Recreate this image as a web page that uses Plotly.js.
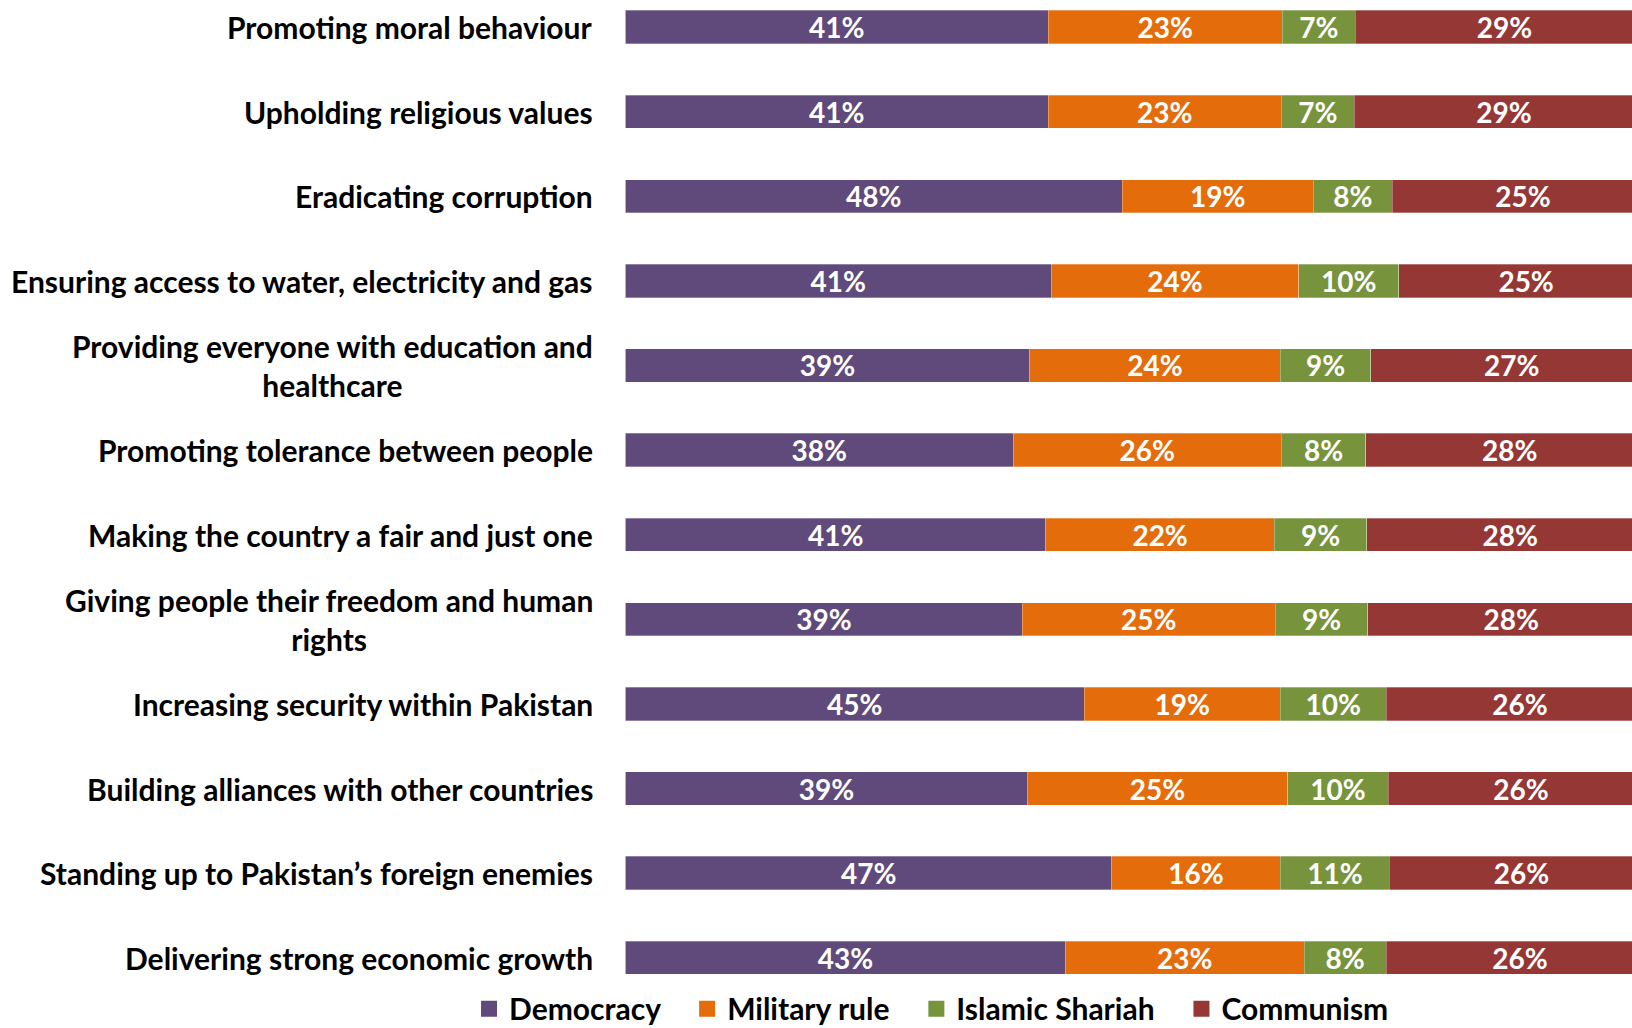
<!DOCTYPE html>
<html><head><meta charset="utf-8">
<script src="https://cdn.plot.ly/plotly-3.0.1.min.js"></script>
<style>html,body{margin:0;padding:0;background:#fff;}#chart{width:1632px;height:1028px;}</style>
</head><body><div id="chart"></div>
<script>
const categories = [
  "Promoting moral behaviour",
  "Upholding religious values",
  "Eradicating corruption",
  "Ensuring access to water, electricity and gas",
  "Providing everyone with education and<br>healthcare",
  "Promoting tolerance between people",
  "Making the country a fair and just one",
  "Giving people their freedom and human<br>rights",
  "Increasing security within Pakistan",
  "Building alliances with other countries",
  "Standing up to Pakistan\u2019s foreign enemies",
  "Delivering strong economic growth"
];
const democracy    = [41.1, 41.1, 48.3, 41.4, 39.3, 37.7, 40.9, 38.6, 44.6, 39.1, 47.3, 42.8];
const militaryRule = [22.8, 22.7, 18.6, 24.1, 24.4, 26.1, 22.2, 24.6, 19.1, 25.3, 16.4, 23.2];
const islamicShariah = [7.1, 7.1, 7.7, 9.7, 8.8, 8.2, 9.0, 9.0, 10.3, 9.8, 10.6, 8.0];
const communism    = [29.0, 29.1, 25.4, 24.8, 27.4, 28.0, 27.9, 27.9, 26.0, 25.8, 25.7, 26.0];

const seriesNames = ["Democracy", "Military rule", "Islamic Shariah", "Communism"];
const seriesValues = [democracy, militaryRule, islamicShariah, communism];
const seriesColors = ["#604A7B", "#E46C0A", "#77933C", "#953735"];

const FONT = "Lato, 'Open Sans', sans-serif";
const idx = categories.map((c, i) => i);

const barTraces = seriesNames.map((name, s) => ({
  type: "bar",
  orientation: "h",
  name: name,
  showlegend: false,
  y: idx,
  x: seriesValues[s],
  marker: {color: seriesColors[s], line: {color: "rgba(255,255,255,0.6)", width: 0.5}},
  texttemplate: "%{x:.0f}%",
  textposition: "inside",
  insidetextanchor: "middle",
  constraintext: "none",
  textangle: 0,
  textfont: {family: FONT, size: 28, color: "#ffffff", weight: "bold"},
  hoverinfo: "skip"
}));

const legendTraces = seriesNames.map((name, s) => ({
  type: "scatter",
  mode: "markers",
  name: name + "\u00a0\u00a0\u00a0",
  x: [null], y: [null],
  marker: {symbol: "square", size: 17, color: seriesColors[s]},
  showlegend: true,
  hoverinfo: "skip"
}));

const annotations = categories.map((c, i) => ({
  xref: "paper", yref: "y",
  x: 0.3645, y: i,
  xanchor: "right", yanchor: "middle",
  align: "center",
  text: "<b>" + c + "</b>",
  showarrow: false,
  font: {family: FONT, size: 30, color: "#000000"}
}));

const layout = {
  width: 1632, height: 1028,
  margin: {l: 0, r: 0, t: 0, b: 0, pad: 0, autoexpand: false},
  barmode: "stack",
  bargap: 0.606,
  paper_bgcolor: "#ffffff",
  plot_bgcolor: "#ffffff",
  showlegend: true,
  legend: {
    orientation: "h",
    x: 0.2874, xanchor: "left",
    y: 0.0188, yanchor: "middle",
    font: {family: FONT, size: 30, color: "#000000", weight: "bold"},
    itemwidth: 30,
    traceorder: "normal",
    bgcolor: "rgba(0,0,0,0)"
  },
  xaxis: {domain: [0.38327, 1], range: [0, 97.9], showgrid: false, zeroline: false, showticklabels: false, showline: false, fixedrange: true},
  yaxis: {domain: [0.0272, 1], range: [11.5, -0.32], showgrid: false, zeroline: false, showticklabels: false, showline: false, fixedrange: true},
  annotations: annotations,
  uniformtext: {mode: false}
};

Plotly.newPlot("chart", barTraces.concat(legendTraces), layout, {displayModeBar: false, staticPlot: true});
</script></body></html>
